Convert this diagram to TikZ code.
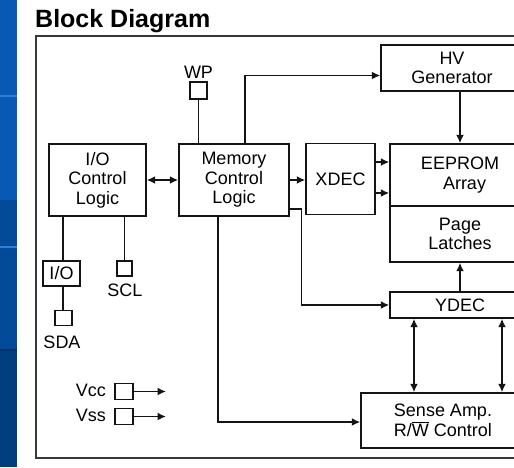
\documentclass[tikz,border=0pt]{standalone}
\usepackage{fontspec}
\setmainfont{Liberation Sans}
\usetikzlibrary{arrows.meta}
\definecolor{ln}{HTML}{141414}
\definecolor{blueA}{HTML}{0759B4}
\definecolor{blueM}{HTML}{034B98}
\definecolor{blueB}{HTML}{003E80}
\definecolor{blueL}{HTML}{2C80DC}
\begin{document}
\begin{tikzpicture}[x=1pt,y=-1pt,
  blk/.style={draw=ln, line width=1.4pt, inner sep=0pt, align=center,
    font=\fontsize{18}{19.5}\selectfont, text=black},
  pinbox/.style={draw=ln, line width=1.4pt, inner sep=0pt},
  lbl/.style={inner sep=0pt, font=\fontsize{18}{19.5}\selectfont},
  wire/.style={draw=ln, line width=1.9pt},
  arr/.style={wire, -{Latex[length=8.5pt,width=8pt]}},
  arrboth/.style={wire, {Latex[length=8.5pt,width=8pt]}-{Latex[length=8.5pt,width=8pt]}}]
\clip (0,0) rectangle (514,467);
\fill[white] (0,0) rectangle (514,467);
% blue strip
\fill[blueA] (0,0) rectangle (16.5,200);
\fill[blueM] (0,200) rectangle (16.5,350);
\fill[blueB] (0,350) rectangle (16.5,467);
\fill[blueL] (0,95) rectangle (16.5,97);
\fill[blueL] (0,246) rectangle (16.5,248);
\fill[blueB!80!black] (0,349) rectangle (16.5,351);
% title
\node[anchor=base west, inner sep=0pt, font=\fontsize{25}{27}\selectfont\bfseries] (title) at (35,27) {Block Diagram};
% frame
\draw[draw=ln!85, line width=1.7pt] (36,36) rectangle (540,458);
% blocks
\node[blk, minimum width=97, minimum height=72] (ioc) at (97.5,180) {I/O\\Control\\Logic};
\node[blk, minimum width=110, minimum height=72] (mcl) at (234,180) {Memory\\Control\\Logic};
\node[blk, minimum width=69, minimum height=71] (xdec) at (340.5,179) {XDEC};
\node[blk, minimum width=140, minimum height=62] (eeprom) at (460,175) {EEPROM\\\hspace*{9pt}Array};
\node[blk, minimum width=140, minimum height=56] (page) at (460,234) {Page\\Latches};
\node[blk, minimum width=142, minimum height=46] (hv) at (452,68) {HV\\Generator};
\node[blk, minimum width=140, minimum height=26] (ydec) at (460,305) {YDEC};
\node[blk, minimum width=164, minimum height=55] (sense) at (443,420.5) {Sense Amp.\\R/$\overline{\hbox{W}}$ Control};
\node[blk, minimum width=37, minimum height=25] (io) at (61.5,273.5) {I/O};
% pins
\node[pinbox, minimum width=17, minimum height=17] (wp) at (198.5,90.5) {};
\node[pinbox, minimum width=15, minimum height=15] (scl) at (124.5,268.5) {};
\node[pinbox, minimum width=17, minimum height=15] (sda) at (63.5,318) {};
\node[pinbox, minimum width=18, minimum height=16] (vcc) at (124,391.5) {};
\node[pinbox, minimum width=18, minimum height=16] (vss) at (124,416.5) {};
% labels
\node[lbl] (wplbl) at (198.5,72) {WP};
\node[lbl] (scllbl) at (125,290) {SCL};
\node[lbl] (sdalbl) at (62,342) {SDA};
\node[lbl, anchor=east] (vcclbl) at (106,390.5) {Vcc};
\node[lbl, anchor=east] (vsslbl) at (106,415.5) {Vss};
% free ends
\coordinate (vccend) at (166,391.5);
\coordinate (vssend) at (166,416.5);
% connectors
\draw[wire] (wp.south) -- (wp.south |- mcl.north);
\draw[arr] (mcl.north -| 245,0) |- (hv.west |- 0,75.5);
\draw[arr] (eeprom.north |- hv.south) -- (eeprom.north);
\draw[arrboth] (ioc.east) -- (mcl.west);
\draw[arr] (mcl.east) -- (mcl.east -| xdec.west);
\draw[arr] (xdec.east |- 0,162) -- (eeprom.west |- 0,162);
\draw[arr] (xdec.east |- 0,193) -- (eeprom.west |- 0,193);
\draw[arr] (mcl.east |- 0,209) -| (301.5,305) -- (ydec.west);
\draw[arr] (ydec.north) -- (page.south);
\draw[arrboth] (ydec.south -| 414,0) -- (sense.north -| 414,0);
\draw[arrboth] (ydec.south -| 502,0) -- (sense.north -| 502,0);
\draw[arr] (mcl.south -| 218,0) |- (sense.west |- 0,422);
\draw[wire] (io.north -| 63,0) -- (ioc.south -| 63,0);
\draw[wire] (io.south -| 63,0) -- (sda.north -| 63,0);
\draw[wire] (scl.north) -- (scl.north |- ioc.south);
\draw[arr] (vcc.east) -- (vccend);
\draw[arr] (vss.east) -- (vssend);
\end{tikzpicture}
\end{document}
